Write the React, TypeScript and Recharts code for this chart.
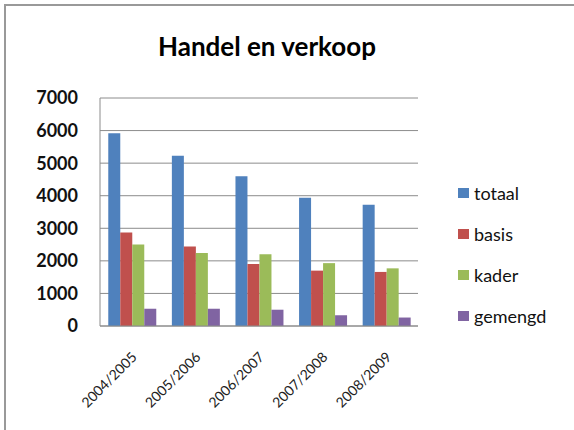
import React from "react";
import { BarChart, Bar, XAxis, YAxis, CartesianGrid } from "recharts";

// ── Data ────────────────────────────────────────────────────────────

const YEARS = ["2004/2005", "2005/2006", "2006/2007", "2007/2008", "2008/2009"];
const TOTAAL = [5920, 5230, 4600, 3940, 3720];
const BASIS = [2870, 2440, 1900, 1700, 1660];
const KADER = [2500, 2240, 2200, 1930, 1770];
const GEMENGD = [530, 530, 500, 330, 260];
const Y_TICKS = [0, 1000, 2000, 3000, 4000, 5000, 6000, 7000];

const SERIES = [
  { key: "totaal", color: "#4F81BD" },
  { key: "basis", color: "#C0504D" },
  { key: "kader", color: "#9BBB59" },
  { key: "gemengd", color: "#8064A2" },
];

const data = YEARS.map((year, i) => ({
  year,
  totaal: TOTAAL[i],
  basis: BASIS[i],
  kader: KADER[i],
  gemengd: GEMENGD[i],
}));

const FONT = "Lato, 'Open Sans', sans-serif";
const GRID = "#8c8c8c";
const FRAME = "#999999";

function YearTick({ x, y, payload }: any) {
  return (
    <g transform={`translate(${x + 6},${y + 24})`}>
      <text
        textAnchor="end"
        transform="rotate(-45)"
        fontFamily={FONT}
        fontSize={14}
        fill="#222"
      >
        {payload.value}
      </text>
    </g>
  );
}

function LegendBox() {
  return (
    <div
      style={{
        position: "absolute",
        left: 458,
        top: 172,
        fontFamily: FONT,
        fontSize: 18,
        color: "#111",
      }}
    >
      {SERIES.map((s) => (
        <div key={s.key} style={{ display: "flex", alignItems: "center", height: 41 }}>
          <span
            style={{
              display: "inline-block",
              width: 11,
              height: 10,
              background: s.color,
              marginRight: 5,
            }}
          />
          {s.key}
        </div>
      ))}
    </div>
  );
}

export default function App() {
  return (
    <div
      style={{
        position: "absolute",
        left: 0,
        top: 0,
        width: 574,
        height: 430,
        background: "#fff",
        overflow: "hidden",
      }}
    >
      <svg
        width={574}
        height={430}
        style={{ position: "absolute", left: 0, top: 0 }}
      >
        {/* outer frame: top and left edge only */}
        <line x1={4} y1={5} x2={574} y2={5} stroke={FRAME} strokeWidth={2} />
        <line x1={5} y1={4} x2={5} y2={430} stroke={FRAME} strokeWidth={2} />
      </svg>
      <div style={{ position: "absolute", left: 0, top: 0 }}>
        <BarChart
          width={574}
          height={430}
          data={data}
          margin={{ top: 98, right: 156, left: 0, bottom: 0 }}
          barCategoryGap="13%"
          barGap={0}
        >
          <CartesianGrid vertical={false} stroke={GRID} />
          <XAxis
            dataKey="year"
            height={104}
            axisLine={{ stroke: GRID }}
            tickLine={false}
            interval={0}
            tick={<YearTick />}
          />
          <YAxis
            width={100}
            domain={[0, 7000]}
            ticks={Y_TICKS}
            axisLine={{ stroke: GRID }}
            tickLine={false}
            tickSize={0}
            tickMargin={22}
            tick={{ fontFamily: FONT, fontWeight: 700, fontSize: 18, fill: "#111" }}
          />
          {SERIES.map((s) => (
            <Bar key={s.key} dataKey={s.key} fill={s.color} isAnimationActive={false} />
          ))}
        </BarChart>
      </div>
      <div
        style={{
          position: "absolute",
          left: 0,
          top: 30,
          width: 534,
          textAlign: "center",
          fontFamily: FONT,
          fontWeight: 700,
          fontSize: 26,
          color: "#000",
        }}
      >
        Handel en verkoop
      </div>
      <LegendBox />
    </div>
  );
}
